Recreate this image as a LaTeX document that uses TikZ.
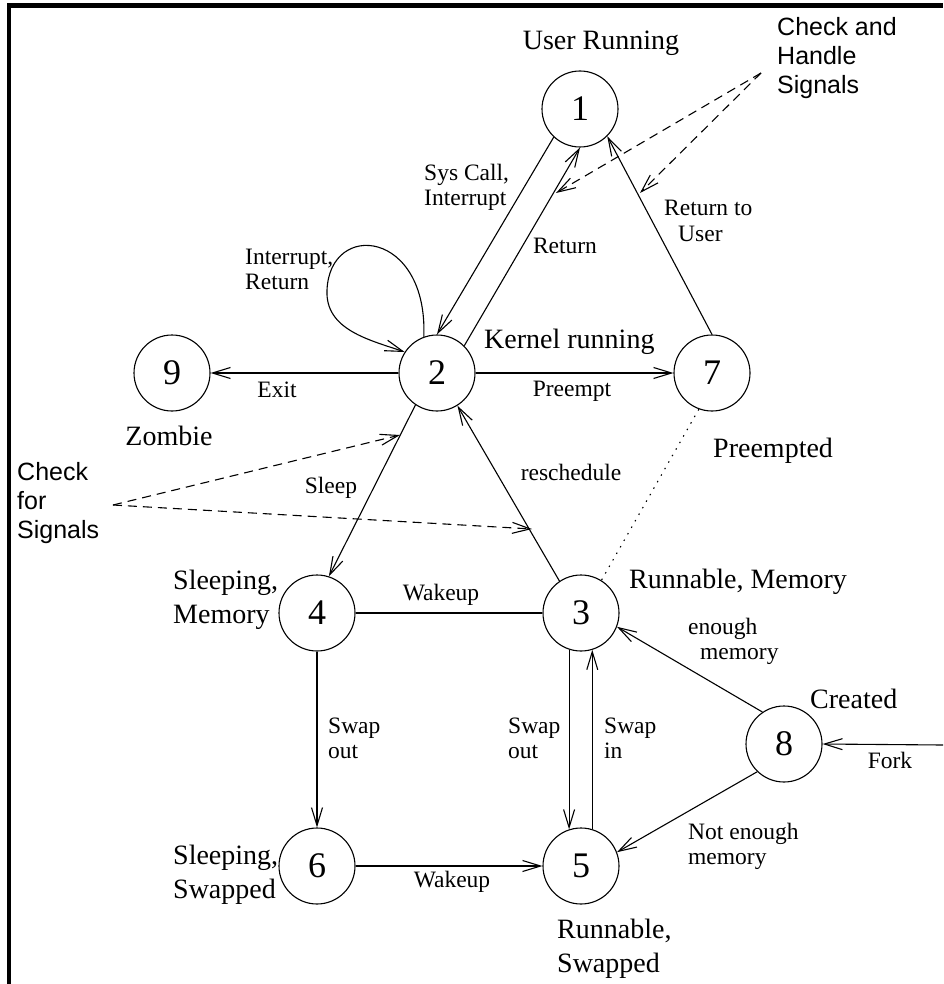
\documentclass[tikz,border=0pt]{standalone}
\usepackage{fontspec}
\setmainfont{Liberation Serif}
\newfontfamily\sansf{Liberation Sans}
\usetikzlibrary{arrows.meta,calc}
\begin{document}
\begin{tikzpicture}[x=1pt,y=-1pt,
  state/.style={circle,draw,line width=1.1pt,minimum size=76pt,inner sep=0pt,font=\fontsize{36}{36}\selectfont},
  big/.style={inner sep=0pt,font=\fontsize{28}{34}\selectfont,align=left},
  small/.style={inner sep=0pt,font=\fontsize{23.5}{25}\selectfont,align=left},
  note/.style={inner sep=0pt,font=\sansf\fontsize{25}{29}\selectfont,align=left},
  edge/.style={line width=1.1pt,-{Straight Barb[length=18pt,width=11pt]}},
  plain/.style={line width=1.1pt},
  sigline/.style={line width=1.1pt,dash pattern=on 9pt off 6pt,-{Straight Barb[length=18pt,width=11pt]}},
  dotline/.style={line width=1.1pt,dash pattern=on 1.5pt off 6pt},
]
\useasboundingbox (0,0) rectangle (943,984);
% frame
\fill (7,3) rectangle (943,8);
\fill (7,3) rectangle (11,984);
% states
\node[state] (n1) at (580,109) {1};
\node[state] (n2) at (437,373) {2};
\node[state] (n9) at (172,373) {9};
\node[state] (n7) at (712,373) {7};
\node[state] (n4) at (317,613) {4};
\node[state] (n3) at (581,613) {3};
\node[state] (n8) at (784,744) {8};
\node[state] (n6) at (317,866) {6};
\node[state] (n5) at (581,866) {5};
% state names (base anchor = baseline of the last line)
\node[big,anchor=base] (lur) at (601,50) {User Running};
\node[big,anchor=base west] (lkr) at (484,348) {Kernel running};
\node[big,anchor=base] (lzo) at (169,445) {Zombie};
\node[big,anchor=base west] (lpr) at (713,457) {Preempted};
\node[big,anchor=base west] (lsm) at (173,623) {Sleeping,\\Memory};
\node[big,anchor=base west] (lrm) at (629,588) {Runnable, Memory};
\node[big,anchor=base west] (lcr) at (810,708) {Created};
\node[big,anchor=base west] (lss) at (173,898) {Sleeping,\\Swapped};
\node[big,anchor=base west] (lrs) at (557,972) {Runnable,\\Swapped};
% notes
\node[note,anchor=base west] (chk1) at (777,94) {Check and\\Handle\\Signals};
\node[note,anchor=base west] (chk2) at (17,538) {Check\\for\\Signals};
% transitions
\draw[edge] (n1.227) -- (n2.90);
\draw[edge] (n2.45) -- (n1.270);
\draw[edge] (n7.90) -- (n1.315);
\coordinate (loopL) at (327,290);
\draw[edge] (n2.110) .. controls (428,230) and (330,220) .. (loopL) .. controls (325,330) and (370,340) .. (n2.147);
\draw[edge] (n2.180) -- (n9.0);
\draw[edge] (n2.0) -- (n7.180);
\draw[edge] (n2.236) -- (n4.72);
\draw[edge] (n3.124) -- (n2.302);
\draw[dotline] (n7.250) -- (n3.58);
\draw[plain] (n4.0) -- (n3.180);
\draw[edge] (n4.270) -- (n6.90);
\draw[edge] (n3.252) -- (n3.252 |- n5.108);
\draw[edge] (n5.73) -- (n5.73 |- n3.287);
\draw[edge] (n6.0) -- (n5.180);
\draw[edge] (n8.124) -- (n3.339);
\draw[edge] (n8.226) -- (n5.21);
\coordinate (forkin) at (943,745);
\draw[edge] (forkin) -- (n8.0);
% signal checks
\coordinate (chs) at (761,73);
\coordinate (chsA) at (556,193);
\coordinate (chsB) at (640,193);
\draw[sigline] (chs) -- (chsA);
\draw[sigline] (chs) -- (chsB);
\coordinate (cfs) at (113,505);
\coordinate (cfsA) at (400,435);
\coordinate (cfsB) at (532,529);
\draw[sigline] (cfs) -- (cfsA);
\draw[sigline] (cfs) -- (cfsB);
% edge labels
\node[small,anchor=base west] (tsys) at (424,206) {Sys Call,\\Interrupt};
\node[small,anchor=base] (tret) at (565,254) {Return};
\node[small,anchor=base west] (tretu) at (664,241) {Return to\\\hspace*{14pt}User};
\node[small,anchor=base west] (tint) at (245,289) {Interrupt,\\Return};
\node[small,anchor=base] (texit) at (277,397) {Exit};
\node[small,anchor=base] (tpre) at (572,396) {Preempt};
\node[small,anchor=base] (tsleep) at (331,493) {Sleep};
\node[small,anchor=base] (tres) at (571,480) {reschedule};
\node[small,anchor=base] (twk1) at (441,600) {Wakeup};
\node[small,anchor=base west] (tenough) at (688,659) {enough\\\hspace*{12pt}memory};
\node[small,anchor=base west] (tso1) at (328,758) {Swap\\out};
\node[small,anchor=base west] (tso2) at (508,758) {Swap\\out};
\node[small,anchor=base west] (tsi) at (604,758) {Swap\\in};
\node[small,anchor=base] (tfork) at (890,768) {Fork};
\node[small,anchor=base west] (tnot) at (688,864) {Not enough\\memory};
\node[small,anchor=base] (twk2) at (452,887) {Wakeup};
\end{tikzpicture}
\end{document}
